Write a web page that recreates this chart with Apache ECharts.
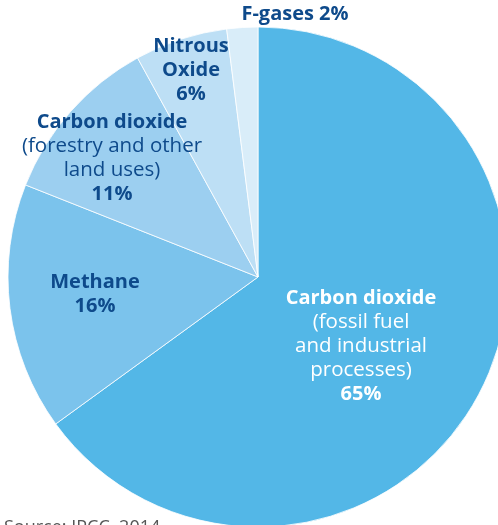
<!DOCTYPE html>
<html><head><meta charset="utf-8">
<script src="https://cdn.jsdelivr.net/npm/echarts@6/dist/echarts.min.js"></script>
<style>html,body{margin:0;padding:0;background:#fff;}#c{width:498px;height:525px;}</style>
</head><body><div id="c"></div>
<script>
const categories = ['Carbon dioxide (fossil fuel and industrial processes)', 'Methane', 'Carbon dioxide (forestry and other land uses)', 'Nitrous Oxide', 'F-gases'];
const values = [65, 16, 11, 6, 2];
const boldLines = [['Carbon dioxide'], ['Methane'], ['Carbon dioxide'], ['Nitrous', 'Oxide'], []];
const normalLines = [['(fossil fuel', 'and industrial', 'processes)'], [], ['(forestry and other', 'land uses)'], [], []];
const pctLabels = ['65%', '16%', '11%', '6%', '2%'];
const colors = ['#53b7e7', '#7bc3ec', '#9ccff0', '#bddff5', '#d9edf9'];
const labelPos = [[361, 346], [95, 294], [112, 158], [191, 70], [295, 14]];
const source = 'Source: IPCC, 2014';

const dark = '#0e4a8b';
function fmt(i) {
  if (i === 4) return '{b|F-gases 2%}';
  const s = i === 0 ? 'w' : 'd';
  const parts = [];
  boldLines[i].forEach(t => parts.push('{' + s + 'b|' + t + '}'));
  normalLines[i].forEach(t => parts.push('{' + s + 'n|' + t + '}'));
  parts.push('{' + s + 'b|' + pctLabels[i] + '}');
  return parts.join('\n');
}
const ff = '"Open Sans", sans-serif';
const rich = {
  db: {fontFamily: ff, fontWeight: 'bold', fontSize: 20, color: dark, lineHeight: 24},
  dn: {fontFamily: ff, fontWeight: 'normal', fontSize: 20.5, color: dark, lineHeight: 24},
  wb: {fontFamily: ff, fontWeight: 'bold', fontSize: 20, color: '#fff', lineHeight: 24},
  wn: {fontFamily: ff, fontWeight: 'normal', fontSize: 20.5, color: '#fff', lineHeight: 24},
  b: {fontFamily: ff, fontWeight: 'bold', fontSize: 20, color: dark, lineHeight: 24}
};
const chart = echarts.init(document.getElementById('c'), null, {renderer: 'canvas'});
chart.setOption({
  animation: false,
  title: {text: source, left: 4, top: 519, padding: 0, textStyle: {fontFamily: ff, fontSize: 18, fontWeight: 'normal', color: '#555'}},
  series: [{
    type: 'pie',
    center: [258, 277],
    radius: 250,
    startAngle: 90,
    clockwise: true,
    silent: true,
    itemStyle: {borderColor: '#ffffff', borderWidth: 0.8},
    label: {show: true, position: 'inside', formatter: p => fmt(p.dataIndex), rich: rich, align: 'center'},
    labelLine: {show: false},
    labelLayout: p => ({x: labelPos[p.dataIndex][0], y: labelPos[p.dataIndex][1], align: 'center', verticalAlign: 'middle'}),
    data: categories.map((c, i) => ({name: c, value: values[i], itemStyle: {color: colors[i]}}))
  }]
});
</script></body></html>
